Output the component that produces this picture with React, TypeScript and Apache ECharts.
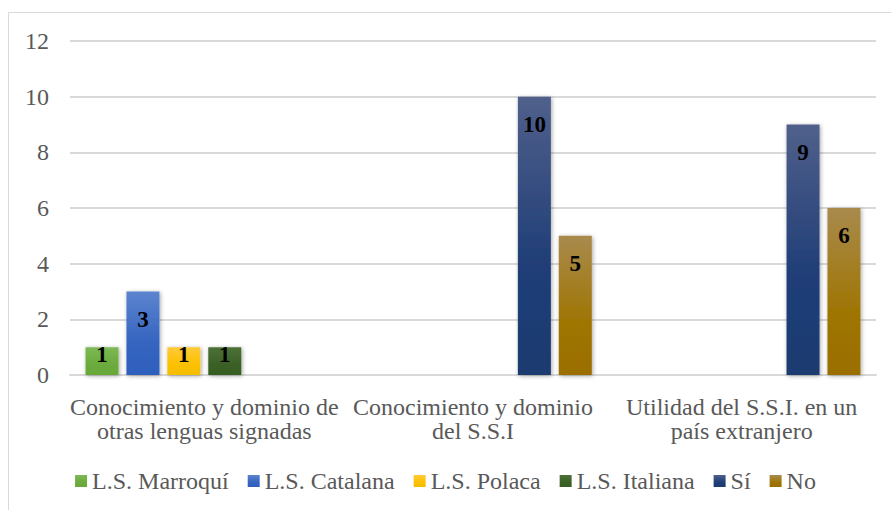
import React, { useEffect, useRef } from "react";
import * as echarts from "echarts";

const categories = [
  "Conocimiento y dominio de\notras lenguas signadas",
  "Conocimiento y dominio\ndel S.S.I",
  "Utilidad del S.S.I. en un\npaís extranjero",
];
const seriesNames = ["L.S. Marroquí", "L.S. Catalana", "L.S. Polaca", "L.S. Italiana", "Sí", "No"];
const marroqui = [1, null, null];
const catalana = [3, null, null];
const polaca = [1, null, null];
const italiana = [1, null, null];
const si = [null, 10, 9];
const no = [null, 5, 6];
const yTicks = { min: 0, max: 12, interval: 2 };

const seriesValues = [marroqui, catalana, polaca, italiana, si, no];
const gradients: [string, string, string][] = [
  ["#7db955", "#6cab3e", "#68a838"],
  ["#5d84cf", "#3565c0", "#2e5fbd"],
  ["#ffca38", "#fcc104", "#f4bd00"],
  ["#4d7137", "#3b6127", "#365e22"],
  ["#50608b", "#203e77", "#1b3a70"],
  ["#a98a4d", "#9f7606", "#9a6e00"],
];

const FONT = "Liberation Serif";

export default function App() {
  const ref = useRef<HTMLDivElement>(null);
  useEffect(() => {
    document.body.style.margin = "0";
    const chart = echarts.init(ref.current!, undefined, { renderer: "svg" });
    const series = seriesNames.map((name, i) => {
      const [c0, c1, c2] = gradients[i];
      const color = new echarts.graphic.LinearGradient(0, 0, 0, 1, [
        { offset: 0, color: c0 },
        { offset: 0.6, color: c1 },
        { offset: 1, color: c2 },
      ]);
      return {
        name,
        type: "bar",
        barWidth: 33,
        barGap: "24%",
        data: seriesValues[i].map((v) =>
          v !== null && v <= 1 ? { value: v, label: { distance: -4 } } : v
        ),
        itemStyle: {
          color,
          shadowBlur: 4,
          shadowColor: "rgba(0,0,0,0.35)",
          shadowOffsetX: 1,
          shadowOffsetY: 1,
        },
        label: {
          show: true,
          position: "insideTop",
          distance: 16,
          color: "#000",
          fontFamily: FONT,
          fontWeight: "bold",
          fontSize: 23,
        },
      };
    });
    chart.setOption({
      animation: false,
      backgroundColor: "#fff",
      textStyle: { fontFamily: FONT },
      graphic: [
        {
          type: "rect",
          shape: { x: 8.5, y: 12.5, width: 900, height: 520 },
          style: { fill: "none", stroke: "#d9d9d9", lineWidth: 1 },
          silent: true,
        },
      ],
      grid: { left: 70, right: 15, top: 41, bottom: 135, containLabel: false },
      legend: {
        bottom: 12,
        left: "center",
        itemWidth: 12,
        itemHeight: 12,
        itemGap: 19,
        icon: "rect",
        textStyle: { fontFamily: FONT, fontSize: 24, color: "#595959" },
        data: seriesNames,
      },
      xAxis: {
        type: "category",
        data: categories,
        axisLine: { lineStyle: { color: "#d9d9d9", width: 2 } },
        axisTick: { show: false },
        axisLabel: {
          fontFamily: FONT,
          fontSize: 24,
          color: "#595959",
          lineHeight: 24,
          margin: 20,
          interval: 0,
        },
      },
      yAxis: {
        type: "value",
        min: yTicks.min,
        max: yTicks.max,
        interval: yTicks.interval,
        axisLine: { show: false },
        axisTick: { show: false },
        splitLine: { lineStyle: { color: "#d9d9d9", width: 2 } },
        axisLabel: { fontFamily: FONT, fontSize: 24, color: "#595959", margin: 21 },
      },
      series,
    });
    return () => chart.dispose();
  }, []);
  return <div ref={ref} style={{ width: 891, height: 510 }} />;
}
